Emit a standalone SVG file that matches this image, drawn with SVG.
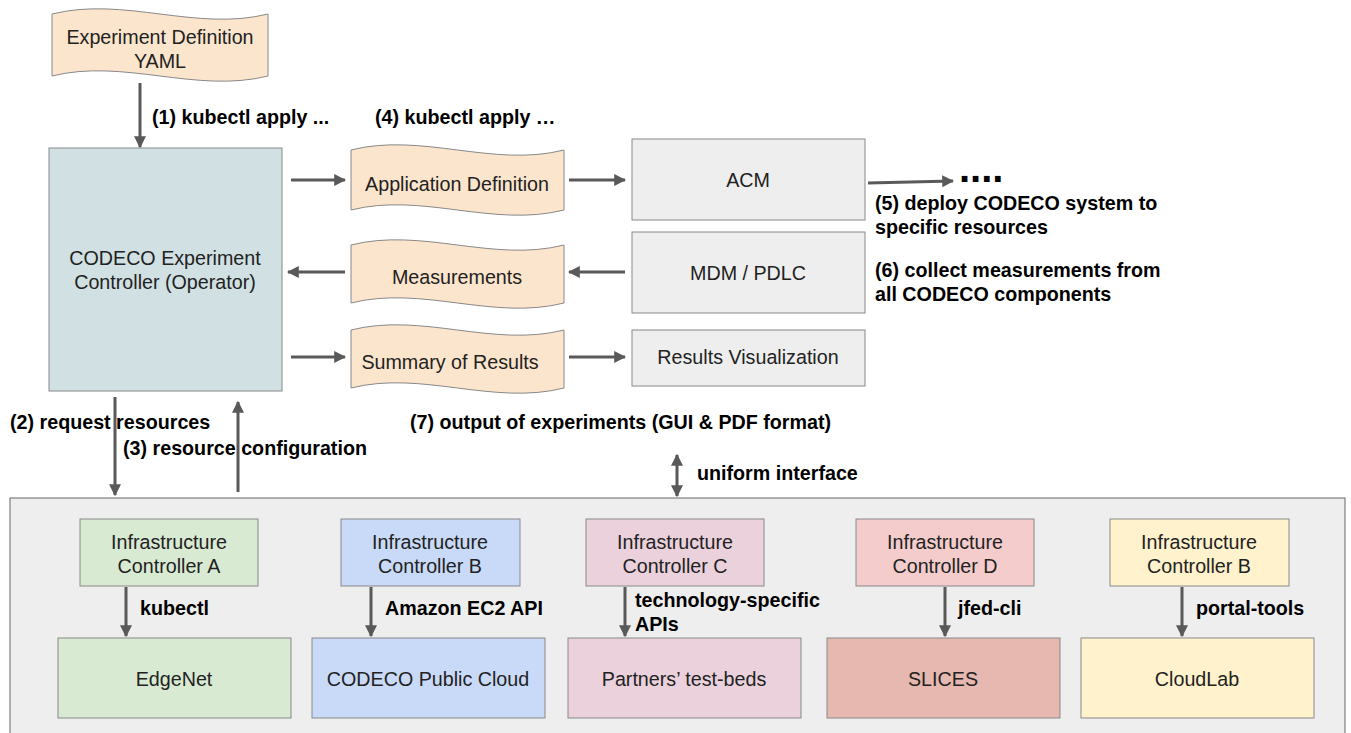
<svg xmlns="http://www.w3.org/2000/svg" width="1351" height="733" viewBox="0 0 1351 733">
  <defs>
    <marker id="ah" viewBox="0 0 10 10" refX="9" refY="5" markerWidth="4" markerHeight="4" orient="auto-start-reverse" markerUnits="strokeWidth">
      <path d="M0,0 L10,5 L0,10 Z" fill="#595959"/>
    </marker>
    <style>
      .lbl { font-family: "Liberation Sans", Arial, sans-serif; font-size: 19.7px; fill: #222; text-anchor: middle; }
      .bold { font-family: "Liberation Sans", Arial, sans-serif; font-size: 19.7px; font-weight: bold; fill: #000; }
      .dots { font-family: "Liberation Sans", Arial, sans-serif; font-size: 40px; font-weight: bold; fill: #000; }
      .doc { fill: #fce5cd; stroke: #888; stroke-width: 1; }
      .box { stroke: #888; stroke-width: 1; }
      .grey { fill: #eeeeee; }
      .conn { stroke: #595959; stroke-width: 3; fill: none; marker-end: url(#ah); }
    </style>
  </defs>
  <rect width="1351" height="733" fill="#ffffff"/>

  <!-- infrastructure layer background -->
  <g id="infra-layer">
    <rect x="10" y="498" width="1335" height="250" fill="#eeeeee" stroke="#666" stroke-width="1"/>
  </g>

  <g id="exp-def">
    <path class="doc" d="M52,14 C124,-4 196,32 268,14 L268,76 C196,94 124,58 52,76 Z"/>
    <text class="lbl" x="160" y="44">Experiment Definition</text>
    <text class="lbl" x="160" y="68">YAML</text>
  </g>

  <g id="controller">
    <rect class="box" x="49" y="148" width="233" height="243" fill="#d0e0e3"/>
    <text class="lbl" x="165" y="265">CODECO Experiment</text>
    <text class="lbl" x="165" y="289">Controller (Operator)</text>
  </g>

  <g id="app-def">
    <path class="doc" d="M351,150 C422,132 493,168 564,150 L564,210 C493,228 422,192 351,210 Z"/>
    <text class="lbl" x="457" y="191">Application Definition</text>
  </g>

  <g id="measurements">
    <path class="doc" d="M351,245 C422,227 493,263 564,245 L564,303 C493,321 422,285 351,303 Z"/>
    <text class="lbl" x="457" y="284">Measurements</text>
  </g>

  <g id="summary">
    <path class="doc" d="M351,330 C422,312 493,348 564,330 L564,388 C493,406 422,370 351,388 Z"/>
    <text class="lbl" x="450" y="369">Summary of Results</text>
  </g>

  <g id="acm">
    <rect class="box grey" x="632" y="139" width="233" height="81"/>
    <text class="lbl" x="748" y="187">ACM</text>
  </g>

  <g id="mdm">
    <rect class="box grey" x="632" y="232" width="233" height="81"/>
    <text class="lbl" x="748" y="280">MDM / PDLC</text>
  </g>

  <g id="results-vis">
    <rect class="box grey" x="632" y="330" width="233" height="56"/>
    <text class="lbl" x="748" y="364">Results Visualization</text>
  </g>

  <g id="ctrl-a">
    <rect class="box" x="80" y="519" width="178" height="67" fill="#d9ead3"/>
    <text class="lbl" x="169" y="549">Infrastructure</text>
    <text class="lbl" x="169" y="573">Controller A</text>
  </g>
  <g id="ctrl-b">
    <rect class="box" x="341" y="519" width="179" height="67" fill="#c9daf8"/>
    <text class="lbl" x="430" y="549">Infrastructure</text>
    <text class="lbl" x="430" y="573">Controller B</text>
  </g>
  <g id="ctrl-c">
    <rect class="box" x="586" y="519" width="178" height="67" fill="#ead1dc"/>
    <text class="lbl" x="675" y="549">Infrastructure</text>
    <text class="lbl" x="675" y="573">Controller C</text>
  </g>
  <g id="ctrl-d">
    <rect class="box" x="856" y="519" width="178" height="67" fill="#f4cccc"/>
    <text class="lbl" x="945" y="549">Infrastructure</text>
    <text class="lbl" x="945" y="573">Controller D</text>
  </g>
  <g id="ctrl-b2">
    <rect class="box" x="1110" y="519" width="179" height="67" fill="#fff2cc"/>
    <text class="lbl" x="1199" y="549">Infrastructure</text>
    <text class="lbl" x="1199" y="573">Controller B</text>
  </g>

  <g id="edgenet">
    <rect class="box" x="58" y="638" width="233" height="80" fill="#d9ead3"/>
    <text class="lbl" x="174" y="686">EdgeNet</text>
  </g>
  <g id="public-cloud">
    <rect class="box" x="312" y="638" width="233" height="80" fill="#c9daf8"/>
    <text class="lbl" x="428" y="686">CODECO Public Cloud</text>
  </g>
  <g id="testbeds">
    <rect class="box" x="568" y="638" width="233" height="80" fill="#ead1dc"/>
    <text class="lbl" x="684" y="686">Partners’ test-beds</text>
  </g>
  <g id="slices">
    <rect class="box" x="827" y="638" width="233" height="80" fill="#e6b8af"/>
    <text class="lbl" x="943" y="686">SLICES</text>
  </g>
  <g id="cloudlab">
    <rect class="box" x="1081" y="638" width="233" height="80" fill="#fff2cc"/>
    <text class="lbl" x="1197" y="686">CloudLab</text>
  </g>

  <g id="connectors">
    <line class="conn" x1="140" y1="83" x2="140" y2="147"/>
    <line class="conn" x1="291" y1="180" x2="345" y2="180"/>
    <line class="conn" x1="569" y1="180" x2="625" y2="180"/>
    <line class="conn" x1="868" y1="183" x2="953" y2="181"/>
    <line class="conn" x1="625" y1="272" x2="569" y2="272"/>
    <line class="conn" x1="345" y1="272" x2="288" y2="272"/>
    <line class="conn" x1="291" y1="357" x2="345" y2="357"/>
    <line class="conn" x1="569" y1="357" x2="625" y2="357"/>
    <line class="conn" x1="115" y1="397" x2="115" y2="495"/>
    <line class="conn" x1="238" y1="492" x2="238" y2="402"/>
    <line class="conn" x1="677" y1="455" x2="677" y2="496" marker-start="url(#ah)"/>
    <line class="conn" x1="126" y1="587" x2="126" y2="636"/>
    <line class="conn" x1="371" y1="587" x2="371" y2="636"/>
    <line class="conn" x1="625" y1="587" x2="625" y2="636"/>
    <line class="conn" x1="945" y1="587" x2="945" y2="636"/>
    <line class="conn" x1="1182" y1="587" x2="1182" y2="636"/>
  </g>

  <g id="labels">
    <text class="bold" x="152" y="124">(1) kubectl apply ...</text>
    <text class="bold" x="375" y="124">(4) kubectl apply …</text>
    <text class="dots" x="959" y="182">....</text>
    <text class="bold" x="875" y="210">(5) deploy CODECO system to</text>
    <text class="bold" x="875" y="234">specific resources</text>
    <text class="bold" x="875" y="277">(6) collect measurements from</text>
    <text class="bold" x="875" y="301">all CODECO components</text>
    <text class="bold" x="10" y="429">(2) request resources</text>
    <text class="bold" x="123" y="455">(3) resource configuration</text>
    <text class="bold" x="410" y="429">(7) output of experiments (GUI &amp; PDF format)</text>
    <text class="bold" x="697" y="480">uniform interface</text>
    <text class="bold" x="140" y="615">kubectl</text>
    <text class="bold" x="385" y="615">Amazon EC2 API</text>
    <text class="bold" x="635" y="607">technology-specific</text>
    <text class="bold" x="635" y="631">APIs</text>
    <text class="bold" x="958" y="615">jfed-cli</text>
    <text class="bold" x="1196" y="615">portal-tools</text>
  </g>
</svg>
